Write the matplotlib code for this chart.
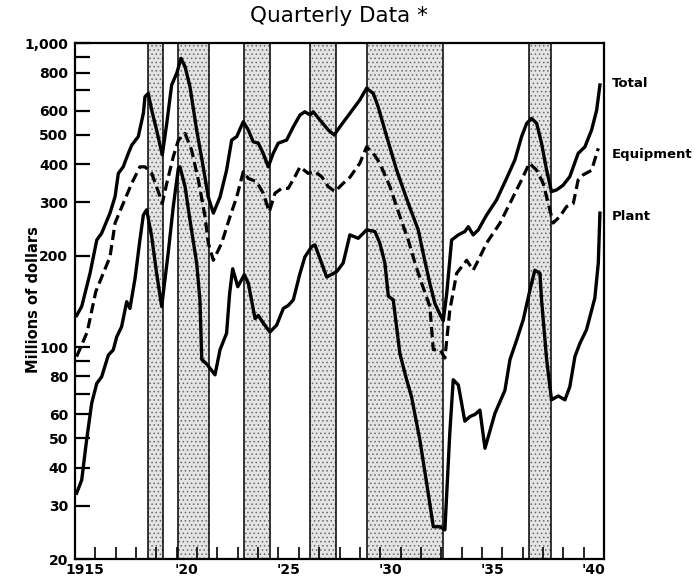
import matplotlib
matplotlib.use("Agg")
import matplotlib.pyplot as plt
from matplotlib.ticker import FixedLocator, NullFormatter, FixedFormatter

# ---------------- data ----------------
total_x = [1915.08, 1915.33, 1915.74, 1916.07, 1916.31, 1916.72, 1916.97, 1917.13, 1917.37, 1917.62,
           1917.79, 1918.11, 1918.36, 1918.44, 1918.60, 1918.77, 1919.01, 1919.29, 1919.51, 1919.75,
           1920.00, 1920.21, 1920.41, 1920.65, 1920.98, 1921.30, 1921.55, 1921.80, 1922.13, 1922.45,
           1922.70, 1922.95, 1923.27, 1923.52, 1923.76, 1924.01, 1924.25, 1924.50, 1924.74, 1924.99,
           1925.40, 1925.73, 1926.06, 1926.30, 1926.55, 1926.71, 1927.04, 1927.45, 1927.74, 1928.02,
           1928.51, 1929.00, 1929.33, 1929.66, 1929.90, 1930.32, 1930.81, 1931.38, 1931.87, 1932.11,
           1932.44, 1932.69, 1932.94, 1933.10, 1933.27, 1933.51, 1933.84, 1934.16, 1934.33, 1934.57,
           1934.82, 1935.23, 1935.72, 1936.21, 1936.62, 1936.95, 1937.20, 1937.44, 1937.69, 1937.93,
           1938.18, 1938.42, 1938.67, 1938.99, 1939.32, 1939.73, 1940.06, 1940.39, 1940.64, 1940.80]
total_y = [127, 136, 175, 225, 237, 276, 313, 373, 392, 434,
           462, 493, 588, 667, 684, 603, 518, 429, 545, 729,
           797, 892, 837, 720, 518, 392, 312, 276, 312, 382,
           480, 493, 552, 518, 474, 469, 434, 392, 434, 469,
           480, 531, 581, 595, 581, 595, 559, 518, 499, 531,
           588, 651, 711, 684, 618, 493, 382, 297, 243, 204,
           162, 139, 128, 122, 150, 225, 234, 240, 249, 234,
           243, 272, 305, 359, 413, 493, 545, 566, 545, 469,
           382, 325, 329, 341, 364, 434, 456, 518, 603, 729]

equip_x = [1915.08, 1915.60, 1916.02, 1916.39, 1916.72, 1916.97, 1917.37, 1917.79, 1918.19, 1918.44,
           1918.77, 1919.01, 1919.29, 1919.51, 1919.83, 1920.08, 1920.41, 1920.73, 1921.06, 1921.39,
           1921.55, 1921.80, 1922.21, 1922.62, 1922.95, 1923.27, 1923.52, 1923.93, 1924.25, 1924.55,
           1924.83, 1925.16, 1925.48, 1925.81, 1926.06, 1926.46, 1926.79, 1927.12, 1927.45, 1927.78,
           1928.18, 1928.51, 1929.00, 1929.33, 1929.66, 1929.98, 1930.48, 1930.97, 1931.38, 1931.71,
           1932.04, 1932.28, 1932.44, 1932.61, 1932.94, 1933.18, 1933.42, 1933.76, 1934.25, 1934.57,
           1934.82, 1935.23, 1935.89, 1936.46, 1936.95, 1937.33, 1937.69, 1938.01, 1938.26, 1938.50,
           1938.83, 1939.16, 1939.49, 1939.73, 1939.98, 1940.39, 1940.72]
equip_y = [93, 112, 152, 175, 198, 256, 297, 346, 392, 392,
           373, 337, 297, 346, 423, 480, 505, 445, 355, 269,
           220, 193, 220, 269, 312, 378, 359, 350, 321, 279,
           321, 333, 333, 364, 392, 373, 378, 364, 337, 325,
           346, 362, 403, 456, 434, 403, 337, 269, 225, 189,
           162, 146, 136, 98, 98, 92, 132, 175, 193, 179,
           193, 220, 256, 305, 355, 403, 382, 346, 297, 256,
           269, 290, 297, 355, 369, 382, 451]

plant_x = [1915.08, 1915.33, 1915.57, 1915.82, 1916.07, 1916.31, 1916.64, 1916.88, 1917.05, 1917.29,
           1917.54, 1917.70, 1917.95, 1918.19, 1918.36, 1918.52, 1918.77, 1919.01, 1919.26, 1919.58,
           1919.83, 1920.08, 1920.16, 1920.41, 1920.65, 1920.98, 1921.14, 1921.23, 1921.47, 1921.88,
           1922.13, 1922.45, 1922.60, 1922.75, 1923.00, 1923.32, 1923.52, 1923.85, 1924.01, 1924.25,
           1924.58, 1924.91, 1925.24, 1925.48, 1925.73, 1926.06, 1926.30, 1926.63, 1926.79, 1927.12,
           1927.37, 1927.86, 1928.18, 1928.51, 1928.92, 1929.33, 1929.74, 1929.98, 1930.23, 1930.40,
           1930.64, 1930.97, 1931.30, 1931.54, 1931.95, 1932.36, 1932.61, 1932.94, 1933.18, 1933.42,
           1933.59, 1933.84, 1934.16, 1934.41, 1934.66, 1934.90, 1935.15, 1935.64, 1936.13, 1936.38,
           1936.71, 1937.03, 1937.36, 1937.60, 1937.85, 1937.93, 1938.18, 1938.42, 1938.75, 1939.08,
           1939.32, 1939.57, 1939.82, 1940.14, 1940.39, 1940.55, 1940.72, 1940.80]
plant_y = [33, 36.5, 49.4, 65.3, 75.9, 79.8, 94.1, 97.8, 108, 116.6,
           141, 134, 168, 225, 272, 283, 231, 175, 136, 204,
           290, 388, 392, 337, 262, 189, 143, 91, 88, 81,
           98, 111, 150, 181, 158, 173, 162, 124, 127, 120,
           112, 118, 134, 137, 143, 175, 198, 214, 217, 189,
           170, 177, 189, 234, 228, 243, 240, 220, 189, 147,
           143, 95, 78, 68.6, 49.4, 33, 25.6, 25.6, 25, 52,
           78, 75, 57, 59, 60, 62, 46.4, 60.5, 72, 91,
           105.5, 123, 154, 179, 175, 143, 91, 67, 69, 67,
           74, 93, 103, 114, 132, 145, 189, 276]

# recession bands (start, end), in years
bands = [(1918.57, 1919.34), (1920.08, 1921.60), (1923.32, 1924.58),
         (1926.55, 1927.81), (1929.33, 1933.07), (1937.33, 1938.38)]

y_major = [20, 30, 40, 50, 60, 80, 100, 200, 300, 400, 500, 600, 800, 1000]
y_major_labels = ["20", "30", "40", "50", "60", "80", "100", "200", "300", "400",
                  "500", "600", "800", "1,000"]
y_minor = [70, 90, 700, 900]

x_label_years = [1915, 1920, 1925, 1930, 1935, 1940]
x_labels = ["1915", "'20", "'25", "'30", "'35", "'40"]

series_labels = [("Total", 740), ("Equipment", 430), ("Plant", 268)]

# ---------------- drawing ----------------
plt.rcParams['font.family'] = ['DejaVu Sans']
plt.rcParams['hatch.linewidth'] = 0.6

fig = plt.figure(figsize=(6.95, 5.79), dpi=100)
ax = fig.add_axes([75 / 695, 1 - 559.3 / 579, (604 - 75) / 695, (559.3 - 43.3) / 579])

ax.set_yscale('log')
ax.set_xlim(1915, 1941)
ax.set_ylim(20, 1000)

for (a, b) in bands:
    ax.axvspan(a, b, facecolor='#e4e4e4', edgecolor='#6a6a6a', hatch='....',
               linewidth=0, zorder=1)
    ax.axvline(a, color='black', lw=1.1, zorder=2)
    ax.axvline(b, color='black', lw=1.1, zorder=2)

ax.plot(total_x, total_y, color='black', lw=2.4, solid_joinstyle='round', zorder=3)
ax.plot(equip_x, equip_y, color='black', lw=2.3, dashes=(3.2, 1.6), zorder=3)
ax.plot(plant_x, plant_y, color='black', lw=2.4, solid_joinstyle='round', zorder=3)

# y axis ticks
ax.yaxis.set_major_locator(FixedLocator(y_major))
ax.yaxis.set_major_formatter(FixedFormatter(y_major_labels))
ax.yaxis.set_minor_locator(FixedLocator(y_minor))
ax.yaxis.set_minor_formatter(NullFormatter())
ax.tick_params(axis='y', which='both', direction='in', length=11, width=1.6,
               pad=5, labelsize=10)
for t in ax.get_yticklabels():
    t.set_fontweight('bold')

# x axis ticks: year boundaries, labels centred in the year
ax.xaxis.set_major_locator(FixedLocator(list(range(1916, 1941))))
ax.xaxis.set_major_formatter(NullFormatter())
ax.xaxis.set_minor_locator(FixedLocator([y + 0.5 for y in x_label_years]))
ax.xaxis.set_minor_formatter(FixedFormatter(x_labels))
ax.tick_params(axis='x', which='major', direction='in', length=9, width=1.2)
ax.tick_params(axis='x', which='minor', length=0, pad=3, labelsize=10)
for t in ax.get_xticklabels(minor=True):
    t.set_fontweight('bold')

for s in ax.spines.values():
    s.set_linewidth(1.6)

fig.text(34 / 695, 1 - 300 / 579, "Millions of dollars", fontsize=10.5, fontweight='bold',
         rotation=90, ha='center', va='center')

for name, val in series_labels:
    ax.text(1941.4, val, name, fontsize=9.5, fontweight='bold', va='center',
            ha='left', clip_on=False)

fig.text(0.487, 0.972, "Quarterly Data *", fontsize=15.5, ha='center', va='center')

fig.savefig("out.png", dpi=100)
